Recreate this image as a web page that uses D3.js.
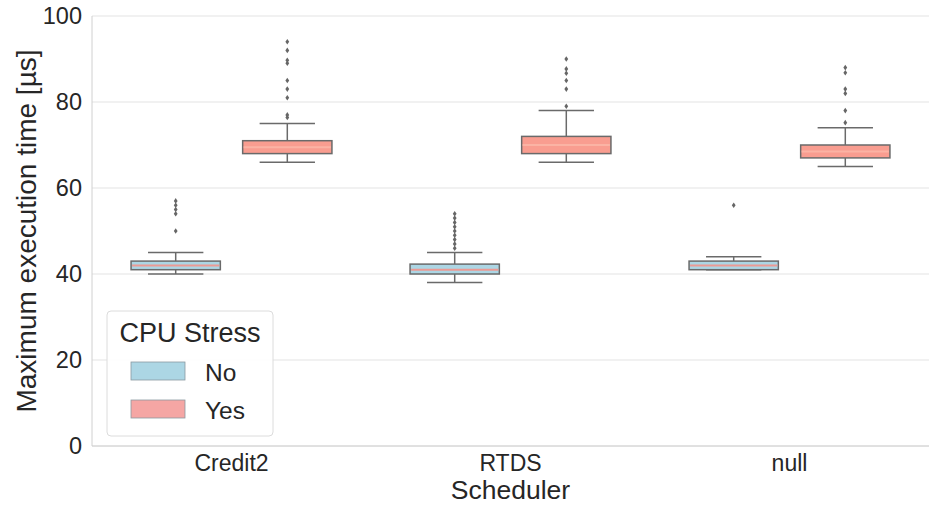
<!DOCTYPE html>
<html>
<head>
<meta charset="utf-8">
<script src="https://cdn.jsdelivr.net/npm/d3@7"></script>
<style>
  html, body { margin: 0; padding: 0; background: #fff; }
  svg { display: block; font-family: "Liberation Sans", Arial, sans-serif; }
</style>
</head>
<body>
<svg id="chart" width="929" height="505"></svg>
<script>
// ---- data ----
const schedulers = ["Credit2", "RTDS", "null"];
const stressLevels = ["No", "Yes"];
const yTicks = [0, 20, 40, 60, 80, 100];
// box statistics per scheduler, [No, Yes]
const whiskerLow  = [[40, 66], [38, 66], [41, 65]];
const q1          = [[41, 68], [40, 68], [41, 67]];
const medians     = [[42, 69.5], [41, 70], [42, 68.5]];
const q3          = [[43, 71], [42.3, 72], [43, 70]];
const whiskerHigh = [[45, 75], [45, 78], [44, 74]];
const outliers = [
  [[50, 54, 55, 56, 57], [76.4, 77, 81, 83, 85, 89, 89.7, 92, 94]],
  [[46, 47, 48, 49, 50, 51, 52, 53, 54], [79, 83, 85, 86.7, 87.7, 90]],
  [[56], [75.2, 78, 82, 83, 86.8, 88]]
];

// ---- chart ----
const svg = d3.select("#chart");
const W = 929, H = 505;
const margin = { left: 92, right: 0, top: 16, bottom: 59 };
const x = d3.scaleBand().domain(schedulers).range([margin.left, W - margin.right]).padding(0);
const y = d3.scaleLinear().domain([0, 100]).range([H - margin.bottom, margin.top]);
const hue = d3.scaleOrdinal().domain(stressLevels).range([-0.2, 0.2]);
const fillColor = d3.scaleOrdinal().domain(stressLevels).range(["#acd6e4", "#f99d90"]);
const medianColor = d3.scaleOrdinal().domain(stressLevels).range(["#ec9a94", "#fbb3a4"]);
const legendColor = d3.scaleOrdinal().domain(stressLevels).range(["#acd6e4", "#f5a6a4"]);
const bw = x.bandwidth();
const boxW = bw * 0.32;
const capW = boxW * 0.62;
const textColor = "#262626";

// grid
svg.append("g").selectAll("line").data(yTicks).join("line")
  .attr("x1", margin.left).attr("x2", W - margin.right)
  .attr("y1", d => y(d)).attr("y2", d => y(d))
  .attr("stroke", "#e3e3e3").attr("stroke-width", 1);

// spines
svg.append("line").attr("x1", margin.left).attr("x2", margin.left)
  .attr("y1", y(0)).attr("y2", y(100)).attr("stroke", "#d0d0d0");
svg.append("line").attr("x1", margin.left).attr("x2", W - margin.right)
  .attr("y1", y(0)).attr("y2", y(0)).attr("stroke", "#d0d0d0");

// y axis
const yAxis = svg.append("g").attr("transform", `translate(${margin.left},0)`)
  .call(d3.axisLeft(y).tickValues(yTicks).tickSize(0).tickPadding(10));
yAxis.select(".domain").remove();
yAxis.selectAll("text").attr("font-size", 23.5).attr("fill", textColor)
  .attr("font-family", "Liberation Sans, Arial, sans-serif");

// x axis
const xAxis = svg.append("g").attr("transform", `translate(0,${y(0)})`)
  .call(d3.axisBottom(x).tickSize(0).tickPadding(9));
xAxis.select(".domain").remove();
xAxis.selectAll("text").attr("font-size", 23).attr("fill", textColor)
  .attr("font-family", "Liberation Sans, Arial, sans-serif");

// axis titles
svg.append("text").attr("x", x("RTDS") + bw / 2).attr("y", 499)
  .attr("text-anchor", "middle").attr("font-size", 26.5).attr("fill", textColor)
  .text("Scheduler");
svg.append("text").attr("transform", `translate(36,${(y(0) + y(100)) / 2}) rotate(-90)`)
  .attr("text-anchor", "middle").attr("font-size", 28).attr("fill", textColor)
  .text("Maximum execution time [µs]");

// boxes
const boxes = [];
schedulers.forEach((s, i) => stressLevels.forEach((h, j) => {
  boxes.push({ s, h, lo: whiskerLow[i][j], q1: q1[i][j], med: medians[i][j], q3: q3[i][j],
    hi: whiskerHigh[i][j], out: outliers[i][j] });
}));
const edge = "#6a6a6a";
const g = svg.append("g");
boxes.forEach(b => {
  const cx = x(b.s) + bw / 2 + hue(b.h) * bw;
  const bg = g.append("g");
  bg.append("line").attr("x1", cx).attr("x2", cx).attr("y1", y(b.q3)).attr("y2", y(b.hi))
    .attr("stroke", edge).attr("stroke-width", 1.5);
  bg.append("line").attr("x1", cx).attr("x2", cx).attr("y1", y(b.q1)).attr("y2", y(b.lo))
    .attr("stroke", edge).attr("stroke-width", 1.5);
  [b.lo, b.hi].forEach(v => bg.append("line")
    .attr("x1", cx - capW / 2).attr("x2", cx + capW / 2).attr("y1", y(v)).attr("y2", y(v))
    .attr("stroke", edge).attr("stroke-width", 1.5));
  bg.append("rect").attr("x", cx - boxW / 2).attr("width", boxW)
    .attr("y", y(b.q3)).attr("height", y(b.q1) - y(b.q3))
    .attr("fill", fillColor(b.h)).attr("stroke", edge).attr("stroke-width", 1.5);
  bg.append("line").attr("x1", cx - boxW / 2 + 1).attr("x2", cx + boxW / 2 - 1)
    .attr("y1", y(b.med)).attr("y2", y(b.med))
    .attr("stroke", medianColor(b.h)).attr("stroke-width", 2);
  bg.selectAll("path.fl").data(b.out).join("path").attr("class", "fl")
    .attr("transform", d => `translate(${cx},${y(d)})`)
    .attr("d", "M0,-2.8L1.9,0L0,2.8L-1.9,0Z")
    .attr("fill", "#666");
});

// legend
const lg = svg.append("g").attr("transform", "translate(107,311)");
lg.append("rect").attr("width", 166).attr("height", 125).attr("rx", 4)
  .attr("fill", "#fff").attr("fill-opacity", 0.9).attr("stroke", "#dcdcdc");
lg.append("text").attr("x", 83).attr("y", 31).attr("text-anchor", "middle")
  .attr("font-size", 27).attr("fill", textColor).text("CPU Stress");
stressLevels.forEach((h, i) => {
  lg.append("rect").attr("x", 24).attr("y", 51 + i * 38).attr("width", 54).attr("height", 18)
    .attr("fill", legendColor(h)).attr("stroke", "#8a9aa0").attr("stroke-width", 0.8);
  lg.append("text").attr("x", 98).attr("y", 70 + i * 38).attr("font-size", 24.5)
    .attr("fill", textColor).text(h);
});
</script>
</body>
</html>
